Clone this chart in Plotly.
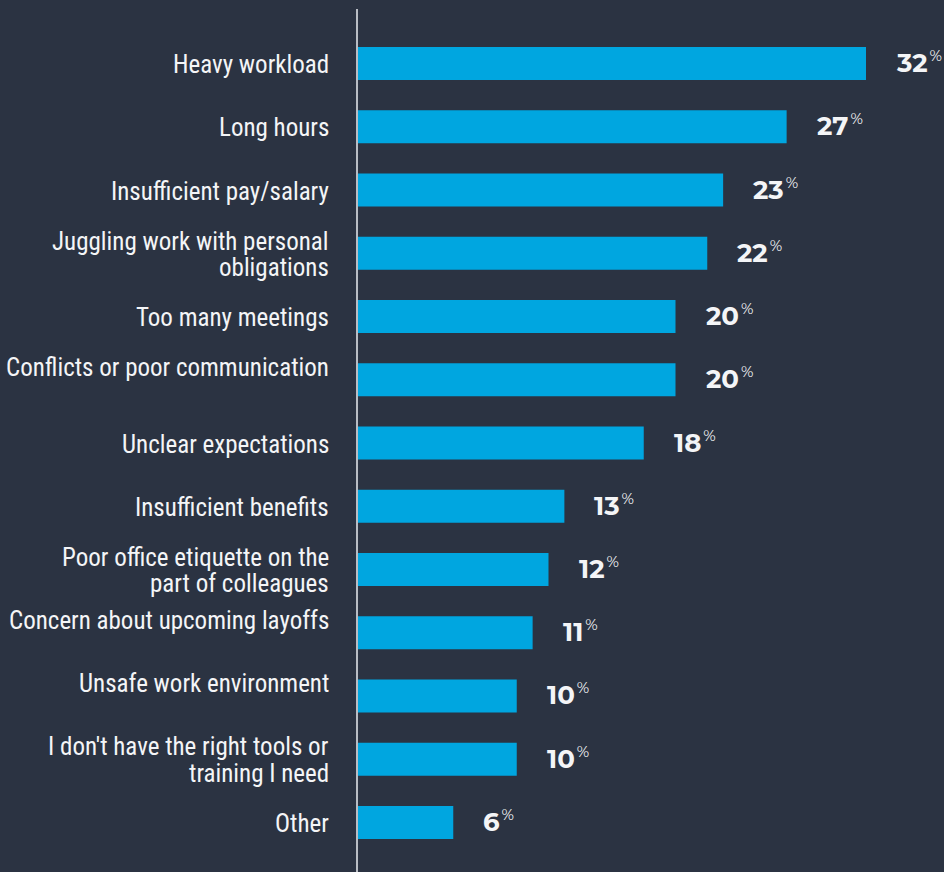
import plotly.graph_objects as go

# Survey answers, top to bottom; "<br>" marks a line break in the label
labels = [
    "Heavy workload",
    "Long hours",
    "Insufficient pay/salary",
    "Juggling work with personal<br>obligations",
    "Too many meetings",
    "Conflicts or poor communication<br>",
    "Unclear expectations",
    "Insufficient benefits",
    "Poor office etiquette on the<br>part of colleagues",
    "Concern about upcoming layoffs<br>",
    "Unsafe work environment<br>",
    "I don't have the right tools or<br>training I need",
    "Other",
]
values = [32, 27, 23, 22, 20, 20, 18, 13, 12, 11, 10, 10, 6]

categories = [lab.replace("<br>", " ").strip() for lab in labels]

BG = "#2b3342"
BAR = "#00a6e0"
TEXT = "#f4f5f7"
LABEL_FONT = "Roboto Condensed, Liberation Sans Narrow, DejaVu Sans Condensed, sans-serif"
VALUE_FONT = "Montserrat, Open Sans, sans-serif"
LINE_H = 26.5

fig = go.Figure(
    go.Bar(
        x=values,
        y=categories,
        orientation="h",
        marker=dict(color=BAR, line=dict(width=0)),
        width=0.52,
        hoverinfo="skip",
    )
)

annotations = []
for cat, lab, val in zip(categories, labels, values):
    lines = lab.split("<br>")
    n = len(lines)
    for k, line in enumerate(lines):
        if not line:
            continue
        annotations.append(dict(
            x=0, y=cat, xref="x", yref="y",
            text=line, showarrow=False,
            xanchor="right", yanchor="middle",
            xshift=-27, yshift=((n - 1) / 2 - k) * LINE_H - 1,
            font=dict(family=LABEL_FONT, size=25, color=TEXT),
        ))
    annotations.append(dict(
        x=val, y=cat, xref="x", yref="y",
        text=f"<b>{val}</b><sup><span style='font-size:15px;font-weight:400'>\u2009%</span></sup>",
        showarrow=False, xanchor="left", yanchor="middle",
        xshift=28, yshift=1,
        font=dict(family=VALUE_FONT, size=26, color=TEXT),
    ))

fig.update_layout(
    width=944, height=872,
    margin=dict(l=358, r=0, t=9, b=0),
    paper_bgcolor=BG, plot_bgcolor=BG,
    showlegend=False,
    annotations=annotations,
    xaxis=dict(range=[0, 586 / 15.875], visible=False, fixedrange=True),
    yaxis=dict(
        categoryorder="array", categoryarray=categories,
        range=[12.783, -0.862],
        showticklabels=False, showgrid=False, zeroline=False,
        showline=True, linecolor="#b9bdc4", linewidth=2,
        ticks="", fixedrange=True,
    ),
)

fig.write_html("out.html")
